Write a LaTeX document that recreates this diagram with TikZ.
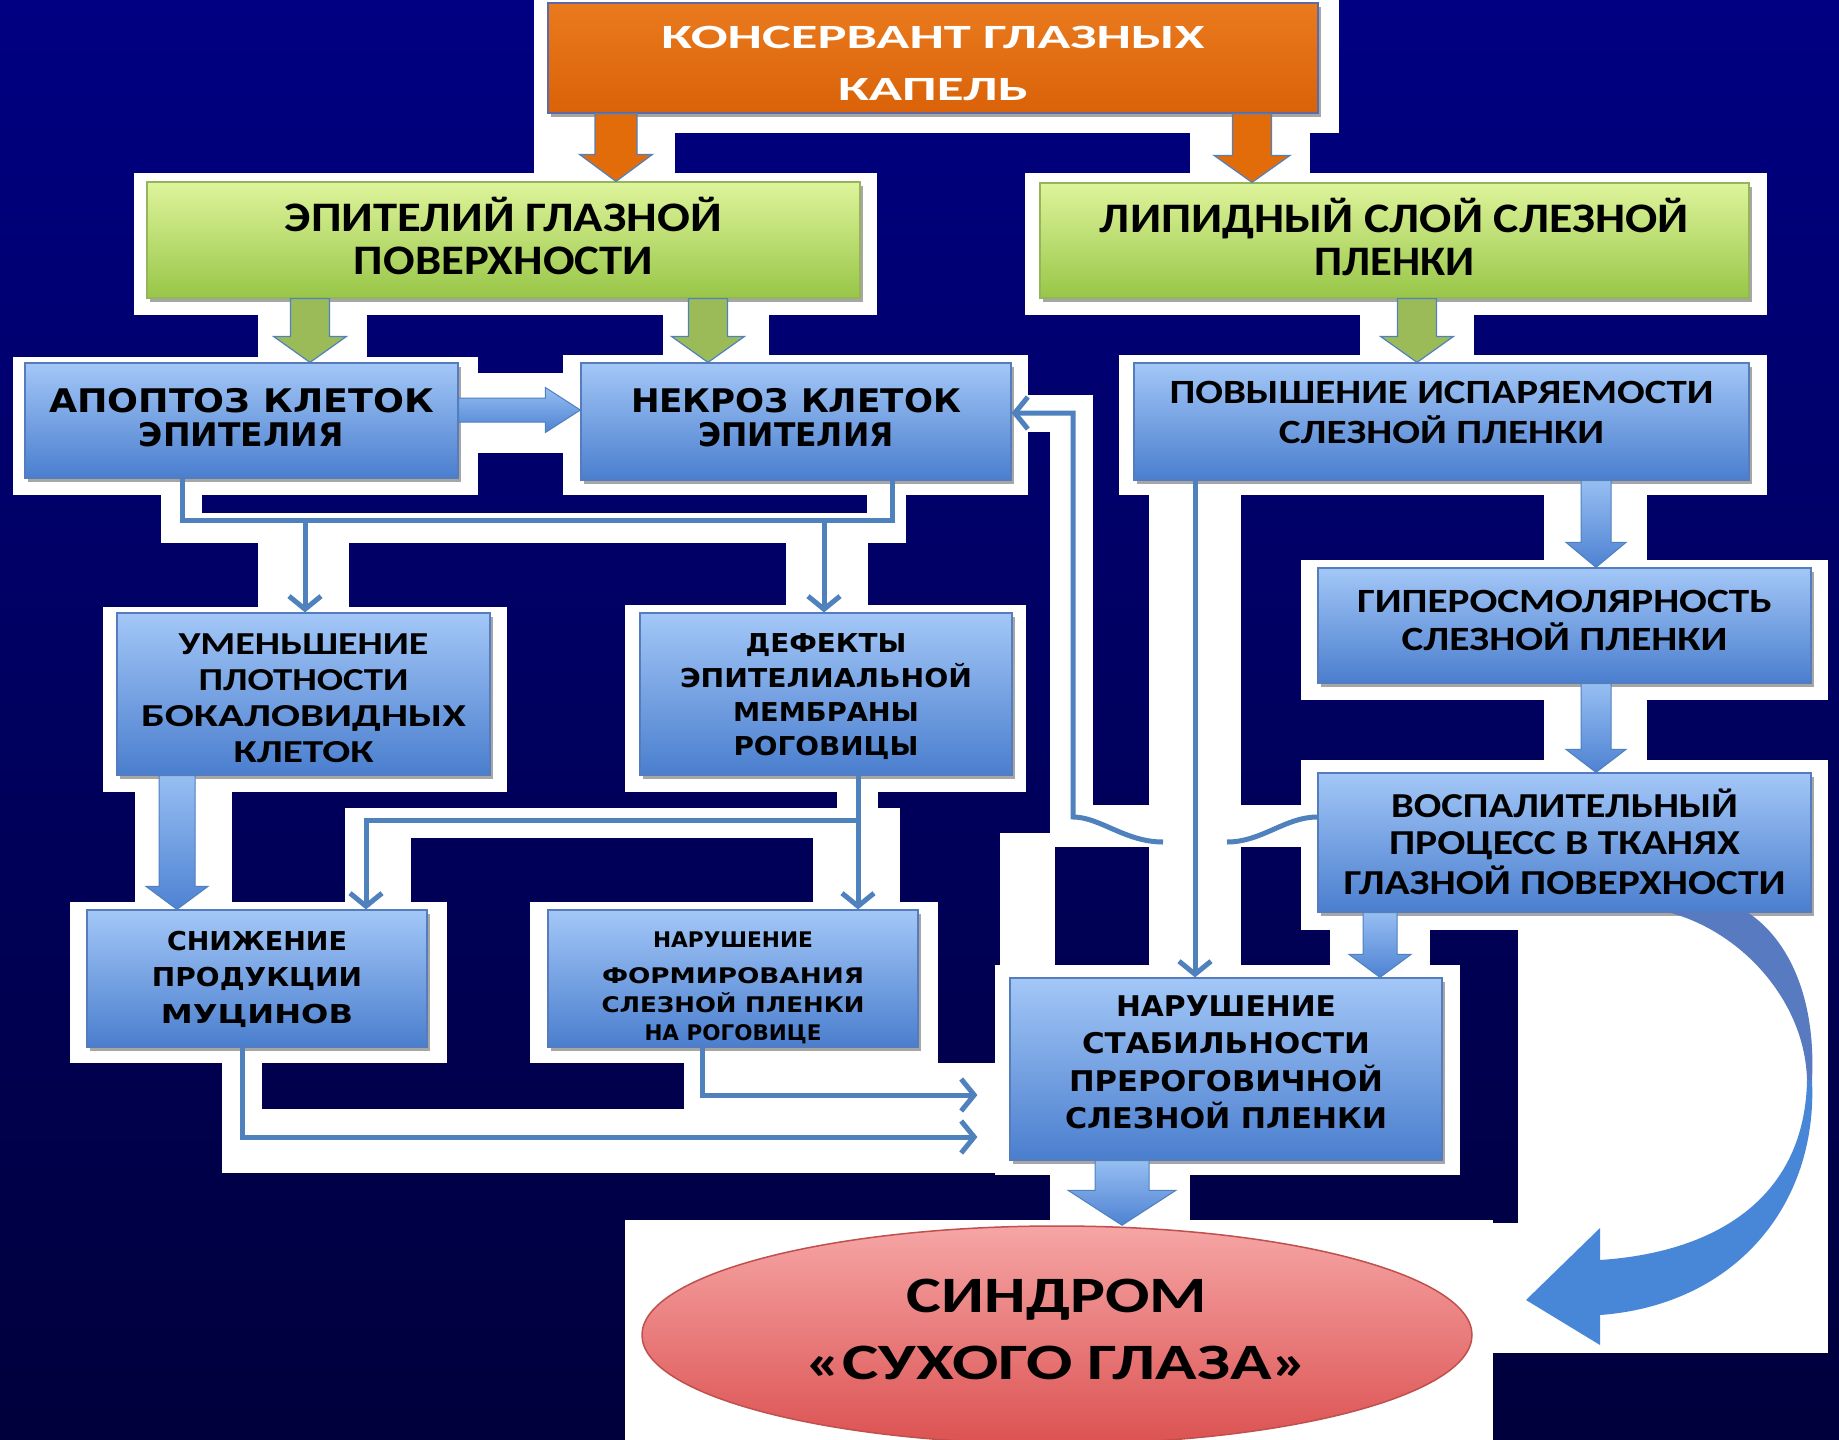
\documentclass[tikz,border=0pt]{standalone}
\usepackage{fontspec}
\setmainfont{Carlito}
\newfontfamily\tah{DejaVu Sans}
\usepackage{graphicx}
\usetikzlibrary{shapes.geometric,arrows.meta,shadows,calc}
\definecolor{bgtop}{RGB}{0,0,130}
\definecolor{bgbot}{RGB}{0,0,60}
\definecolor{ortop}{RGB}{234,122,30}
\definecolor{orbot}{RGB}{218,98,8}
\definecolor{orline}{RGB}{95,105,165}
\definecolor{orarrow}{RGB}{227,108,10}
\definecolor{grtop}{RGB}{222,244,155}
\definecolor{grbot}{RGB}{152,198,72}
\definecolor{grline}{RGB}{150,180,90}
\definecolor{grarrow}{RGB}{155,187,89}
\definecolor{bltop}{RGB}{163,199,247}
\definecolor{blbot}{RGB}{74,126,206}
\definecolor{blline}{RGB}{85,125,190}
\definecolor{lncol}{RGB}{79,129,189}
\definecolor{abtop}{RGB}{150,190,242}
\definecolor{abbot}{RGB}{78,130,210}
\definecolor{cvback}{RGB}{88,122,192}
\definecolor{cvfront}{RGB}{72,134,216}
\definecolor{eltop}{RGB}{246,165,165}
\definecolor{elbot}{RGB}{220,82,82}
\definecolor{elline}{RGB}{192,80,77}
\newcommand\lw[2]{\resizebox{#1pt}{\height}{#2}}
\newcommand\tx[2]{\raisebox{#1pt}[\height][\depth]{\begin{tabular}{@{}c@{}}#2\end{tabular}}}
\newcommand\blkV[6]{\path[#1] let \p1=#2, \p2=#3 in (\x1-#4pt,\y1) -- (\x1+#4pt,\y1) -- (\x1+#4pt,\y2+#6pt) -- (\x1+#5pt,\y2+#6pt) -- (\x2,\y2) -- (\x1-#5pt,\y2+#6pt) -- (\x1-#4pt,\y2+#6pt) -- cycle;}
\newcommand\blkH[6]{\path[#1] let \p1=#2, \p2=#3 in (\x1,\y1+#4pt) -- (\x2-#6pt,\y1+#4pt) -- (\x2-#6pt,\y1+#5pt) -- (\x2,\y2) -- (\x2-#6pt,\y1-#5pt) -- (\x2-#6pt,\y1-#4pt) -- (\x1,\y1-#4pt) -- cycle;}
\begin{document}
\begin{tikzpicture}[x=1pt,y=-1pt,
  halo/.style={fill=white},
  shad/.style={drop shadow={shadow xshift=3pt,shadow yshift=-4pt,fill=black,opacity=.35}},
  bbox/.style={draw=blline,line width=1.2pt,top color=bltop,bottom color=blbot,inner sep=1pt,shad},
  gbox/.style={draw=grline,line width=1.2pt,top color=grtop,bottom color=grbot,inner sep=1pt,shad},
  obox/.style={draw=orline,line width=1.5pt,top color=ortop,bottom color=orbot,text=white,inner sep=1pt,shad},
  conn/.style={draw=lncol,line width=5pt},
  connarr/.style={conn,-{Straight Barb[length=13pt,width=32pt]}},
  oarr/.style={fill=orarrow,draw=lncol,line width=1.2pt},
  garr/.style={fill=grarrow,draw=lncol,line width=1.2pt},
  barr/.style={top color=abtop,bottom color=abbot,draw=lncol,line width=1pt}]
\shade[top color=bgtop,bottom color=bgbot] (0,0) rectangle (1839,1440);
\useasboundingbox (0,0) rectangle (1839,1440);
% white halos
\fill[halo] (534,0) rectangle (1339,133);
\fill[halo] (534,133) rectangle (675,173);
\fill[halo] (1190,133) rectangle (1310,173);
\fill[halo] (134,173) rectangle (877,315);
\fill[halo] (1025,173) rectangle (1767,315);
\fill[halo] (258,315) rectangle (367,357);
\fill[halo] (663,315) rectangle (769,357);
\fill[halo] (1360,315) rectangle (1474,357);
\fill[halo] (13,357) rectangle (478,495);
\fill[halo] (478,373) rectangle (563,453);
\fill[halo] (563,355) rectangle (1028,495);
\fill[halo] (1028,395) rectangle (1050,432);
\fill[halo] (1119,355) rectangle (1767,495);
\fill[halo] (1050,395) rectangle (1093,847);
\fill[halo] (161,495) rectangle (202,543);
\fill[halo] (161,513) rectangle (906,543);
\fill[halo] (867,495) rectangle (906,543);
\fill[halo] (258,543) rectangle (349,607);
\fill[halo] (786,543) rectangle (868,607);
\fill[halo] (103,607) rectangle (507,792);
\fill[halo] (625,605) rectangle (1026,792);
\fill[halo] (1149,495) rectangle (1241,978);
\fill[halo] (1544,495) rectangle (1647,773);
\fill[halo] (1301,560) rectangle (1828,700);
\fill[halo] (1301,760) rectangle (1828,930);
\fill[halo] (1055,805) rectangle (1301,847);
\fill[halo] (135,792) rectangle (232,902);
\fill[halo] (345,808) rectangle (900,838);
\fill[halo] (837,792) rectangle (878,808);
\fill[halo] (345,838) rectangle (411,902);
\fill[halo] (813,838) rectangle (900,902);
\fill[halo] (70,902) rectangle (447,1063);
\fill[halo] (530,902) rectangle (938,1063);
\fill[halo] (222,1063) rectangle (262,1109);
\fill[halo] (684,1063) rectangle (1004,1109);
\fill[halo] (222,1109) rectangle (1004,1173);
\fill[halo] (995,965) rectangle (1460,1175);
\fill[halo] (1000,833) rectangle (1055,970);
\fill[halo] (1330,912) rectangle (1430,970);
\fill[halo] (1050,1160) rectangle (1190,1220);
\fill[halo] (625,1220) rectangle (1493,1440);
\fill[halo] (1518,928) rectangle (1828,1353);
\fill[halo] (1493,1223) rectangle (1518,1353);
% boxes
\node[obox,minimum width=770pt,minimum height=110pt,font=\bfseries\fontsize{34}{52}\selectfont] (kons) at (933,58)
  {\tx{-5.6}{\lw{543}{КОНСЕРВАНТ ГЛАЗНЫХ}\\ \lw{190}{КАПЕЛЬ}}};
\node[gbox,minimum width=713pt,minimum height=116pt,font=\bfseries\fontsize{42}{43}\selectfont] (epi) at (503.5,240)
  {\tx{-2.5}{\lw{437}{ЭПИТЕЛИЙ ГЛАЗНОЙ}\\ \lw{299}{ПОВЕРХНОСТИ}}};
\node[gbox,minimum width=709pt,minimum height=115pt,font=\bfseries\fontsize{42}{43}\selectfont] (lip) at (1394.5,240.5)
  {\tx{-2.5}{\lw{589}{ЛИПИДНЫЙ СЛОЙ СЛЕЗНОЙ}\\ \lw{160}{ПЛЕНКИ}}};
\node[bbox,minimum width=433pt,minimum height=115pt,font=\tah\bfseries\fontsize{32.5}{34}\selectfont] (apo) at (241.5,420.5)
  {\tx{-1.7}{\lw{385}{АПОПТОЗ КЛЕТОК}\\ \lw{205}{ЭПИТЕЛИЯ}}};
\node[bbox,minimum width=430pt,minimum height=117pt,font=\tah\bfseries\fontsize{32.5}{34}\selectfont] (nek) at (796,421.5)
  {\tx{-0.7}{\lw{330}{НЕКРОЗ КЛЕТОК}\\ \lw{195}{ЭПИТЕЛИЯ}}};
\node[bbox,minimum width=615pt,minimum height=117pt,font=\bfseries\fontsize{34}{40}\selectfont] (pov) at (1441.5,421.5)
  {\tx{6.5}{\lw{544}{ПОВЫШЕНИЕ ИСПАРЯЕМОСТИ}\\ \lw{325}{СЛЕЗНОЙ ПЛЕНКИ}}};
\node[bbox,minimum width=493pt,minimum height=115pt,font=\bfseries\fontsize{34}{37}\selectfont] (gip) at (1564.5,625.5)
  {\tx{1.4}{\lw{415}{ГИПЕРОСМОЛЯРНОСТЬ}\\ \lw{326}{СЛЕЗНОЙ ПЛЕНКИ}}};
\node[bbox,minimum width=493pt,minimum height=139pt,font=\bfseries\fontsize{35}{37.5}\selectfont] (vosp) at (1564.5,842.5)
  {\tx{-4.5}{\lw{347}{ВОСПАЛИТЕЛЬНЫЙ}\\ \lw{351}{ПРОЦЕСС В ТКАНЯХ}\\ \lw{442}{ГЛАЗНОЙ ПОВЕРХНОСТИ}}};
\node[bbox,minimum width=373pt,minimum height=162pt,font=\bfseries\fontsize{32}{35.7}\selectfont] (umen) at (303.5,694)
  {\tx{-7.4}{\lw{250}{УМЕНЬШЕНИЕ}\\ \lw{210}{ПЛОТНОСТИ}\\ \lw{325}{БОКАЛОВИДНЫХ}\\ \lw{140}{КЛЕТОК}}};
\node[bbox,minimum width=372pt,minimum height=162pt,font=\tah\bfseries\fontsize{26}{34}\selectfont] (def) at (826,694)
  {\tx{-3.2}{\lw{161}{ДЕФЕКТЫ}\\ \lw{292}{ЭПИТЕЛИАЛЬНОЙ}\\ \lw{186}{МЕМБРАНЫ}\\ \lw{185}{РОГОВИЦЫ}}};
\node[bbox,minimum width=340pt,minimum height=137pt,font=\tah\bfseries\fontsize{26}{36.5}\selectfont] (sniz) at (257,978.5)
  {\tx{-0.7}{\lw{180}{СНИЖЕНИЕ}\\ \lw{210}{ПРОДУКЦИИ}\\ \lw{192}{МУЦИНОВ}}};
\node[bbox,minimum width=370pt,minimum height=137pt,font=\tah\bfseries\fontsize{21.5}{28}\selectfont] (narf) at (733,978.5)
  {\tx{-9.9}{\lw{160}{НАРУШЕНИЕ}\\[8pt] \lw{262}{ФОРМИРОВАНИЯ}\\ \lw{263}{СЛЕЗНОЙ ПЛЕНКИ}\\ \lw{177}{НА РОГОВИЦЕ}}};
\node[bbox,minimum width=432pt,minimum height=182pt,font=\tah\bfseries\fontsize{28.5}{37}\selectfont] (stab) at (1226,1069)
  {\tx{3.9}{\lw{220}{НАРУШЕНИЕ}\\ \lw{288}{СТАБИЛЬНОСТИ}\\ \lw{314}{ПРЕРОГОВИЧНОЙ}\\ \lw{322}{СЛЕЗНОЙ ПЛЕНКИ}}};
\node[ellipse,draw=elline,line width=1.5pt,top color=eltop,bottom color=elbot,minimum width=830pt,minimum height=218pt,inner sep=0pt,font=\bfseries\fontsize{51}{67}\selectfont] (ell) at (1057,1335)
  {\tx{2.9}{\lw{300}{СИНДРОМ}\\ \lw{503}{«СУХОГО ГЛАЗА»}}};
% x positions of block arrows
\coordinate (xo1) at (616,0);
\coordinate (xo2) at (1252,0);
\coordinate (xg1) at (310,0);
\coordinate (xg2) at (708,0);
\coordinate (xg3) at (1417,0);
\coordinate (xb1) at (1596,0);
\coordinate (xb2) at (1380,0);
\coordinate (xb3) at (177,0);
\coordinate (xb4) at (1122,0);
\coordinate (yh1) at (0,410);
\blkV{oarr}{(kons.south -| xo1)}{(epi.north -| xo1)}{21}{36.5}{27}
\blkV{oarr}{(kons.south -| xo2)}{(lip.north -| xo2)}{19.5}{38}{27}
\blkV{garr}{(epi.south -| xg1)}{(apo.north -| xg1)}{19.5}{36.5}{26}
\blkV{garr}{(epi.south -| xg2)}{(nek.north -| xg2)}{19.5}{36.5}{26}
\blkV{garr}{(lip.south -| xg3)}{(pov.north -| xg3)}{19.5}{36.5}{26}
\blkH{barr}{(apo.east |- yh1)}{(nek.west |- yh1)}{12}{22.5}{35}
\blkV{barr}{(pov.south -| xb1)}{(gip.north -| xb1)}{15}{30}{25}
\blkV{barr}{(gip.south -| xb1)}{(vosp.north -| xb1)}{15}{30}{23}
\blkV{barr}{(vosp.south -| xb2)}{(stab.north -| xb2)}{17}{31}{23}
\blkV{barr}{(umen.south -| xb3)}{(sniz.north -| xb3)}{18}{31}{23}
\blkV{barr}{(stab.south -| xb4)}{(ell.north -| xb4)}{27}{54}{35}
% thin connectors
\coordinate (b1L) at (182,520);
\coordinate (b1R) at (892,520);
\coordinate (b1a) at (305,520);
\coordinate (b1b) at (824,520);
\draw[conn] (apo.south -| b1L) -- (b1L) -- (b1R) -- (nek.south -| b1R);
\draw[connarr] (b1a) -- (umen.north -| b1a);
\draw[connarr] (b1b) -- (def.north -| b1b);
\coordinate (b2R) at (858,820);
\coordinate (b2L) at (366,820);
\draw[connarr] (def.south -| b2R) -- (narf.north -| b2R);
\draw[connarr] (b2R) -- (b2L) -- (sniz.north -| b2L);
\coordinate (b3a) at (702,1095);
\coordinate (b3b) at (242,1137);
\draw[connarr] (narf.south -| b3a) -- (b3a) -- ($(stab.west |- b3a)+(-32,0)$);
\draw[connarr] (sniz.south -| b3b) -- (b3b) -- ($(stab.west |- b3b)+(-32,0)$);
\coordinate (cv) at (1195,0);
\draw[connarr] (pov.south -| cv) -- (stab.north -| cv);
\coordinate (fbB) at (1073,817);
\coordinate (fbT) at (1073,413);
\coordinate (hopR) at (1227,842);
\coordinate (hopL) at (1163,842);
\draw[conn] (vosp.west |- fbB) .. controls (1285,817) and (1262,842) .. (hopR);
\draw[connarr] (hopL) .. controls (1125,842) and (1100,817) .. (fbB) -- (fbT) -- (nek.east |- fbT);
% curved arrow
\fill[cvback] (1667,912) .. controls (1740,930) and (1805,1000) .. (1807,1080) -- (1812,1080) .. controls (1816,1000) and (1790,940) .. (1747,912) -- cycle;
\fill[cvfront] (1807,1080) -- (1812,1080) .. controls (1818,1205) and (1735,1305) .. (1600,1315) -- (1600,1345) -- (1526,1300) -- (1600,1228) -- (1600,1260) .. controls (1720,1252) and (1805,1195) .. (1807,1080) -- cycle;
\end{tikzpicture}
\end{document}
